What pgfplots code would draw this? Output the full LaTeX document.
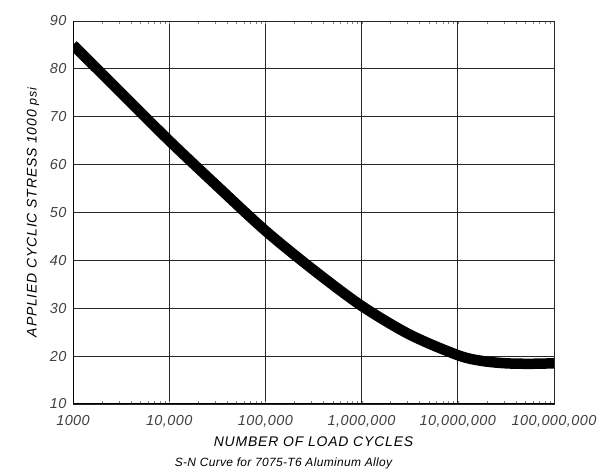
\documentclass[border=0pt]{standalone}
\usepackage{fontspec}
\setmainfont{Liberation Sans}
\usepackage{pgfplots}
\pgfplotsset{compat=1.18}
\begin{document}
\begin{tikzpicture}
\begin{axis}[
  scale only axis,
  width=481bp, height=383bp,
  xmode=log,
  xmin=1000, xmax=1e8,
  ymin=10, ymax=90,
  xtick={1e3,1e4,1e5,1e6,1e7,1e8},
  xticklabels={1000,{10,000},{100,000},{1,000,000},{10,000,000},{100,000,000}},
  ytick={10,20,...,90},
  yticklabel style={/pgf/number format/assume math mode=true},
  minor xtick={},
  major tick length=0pt,
  grid=major,
  grid style={black!85, line width=0.9bp},
  axis line style={black!85, line width=0.9bp},
  tick label style={font=\fontsize{14.5}{16}\selectfont\itshape\addfontfeatures{LetterSpace=3}, text=black!75},
  xticklabel style={yshift=-8bp},
  yticklabel style={xshift=-3bp},
  xlabel={\fontsize{14}{16}\selectfont\itshape\addfontfeatures{LetterSpace=6}NUMBER OF LOAD CYCLES},
  ylabel={\fontsize{14}{16}\selectfont\itshape\addfontfeatures{LetterSpace=6}APPLIED CYCLIC STRESS 1000 {\fontsize{12.5}{14}\selectfont psi}},
  xlabel style={yshift=-2bp},
  ylabel style={yshift=4bp},
  clip=true,
]
\addplot[black, line width=10.5bp, smooth, tension=0.5] coordinates {
  (1000,85) (3162,75) (10000,65) (31623,55.5) (100000,46.2) (316228,38)
  (1000000,30.5) (3162278,24.5) (10000000,20.2) (17782794,19.0) (31622777,18.5)
  (56234133,18.4) (100000000,18.5)
};
\draw[black, line width=2.2bp] (rel axis cs:0,1) -- (rel axis cs:0,0) -- (rel axis cs:1,0);
\end{axis}
\node[anchor=center, font=\fontsize{12}{14}\selectfont\itshape] at ([xshift=-30bp,yshift=-59bp]current axis.south) {\addfontfeatures{LetterSpace=3}S-N Curve for 7075-T6 Aluminum Alloy};
\path ([xshift=-73bp,yshift=-69bp]current axis.south west) rectangle ([xshift=57bp,yshift=21bp]current axis.north east);
\end{tikzpicture}
\end{document}
